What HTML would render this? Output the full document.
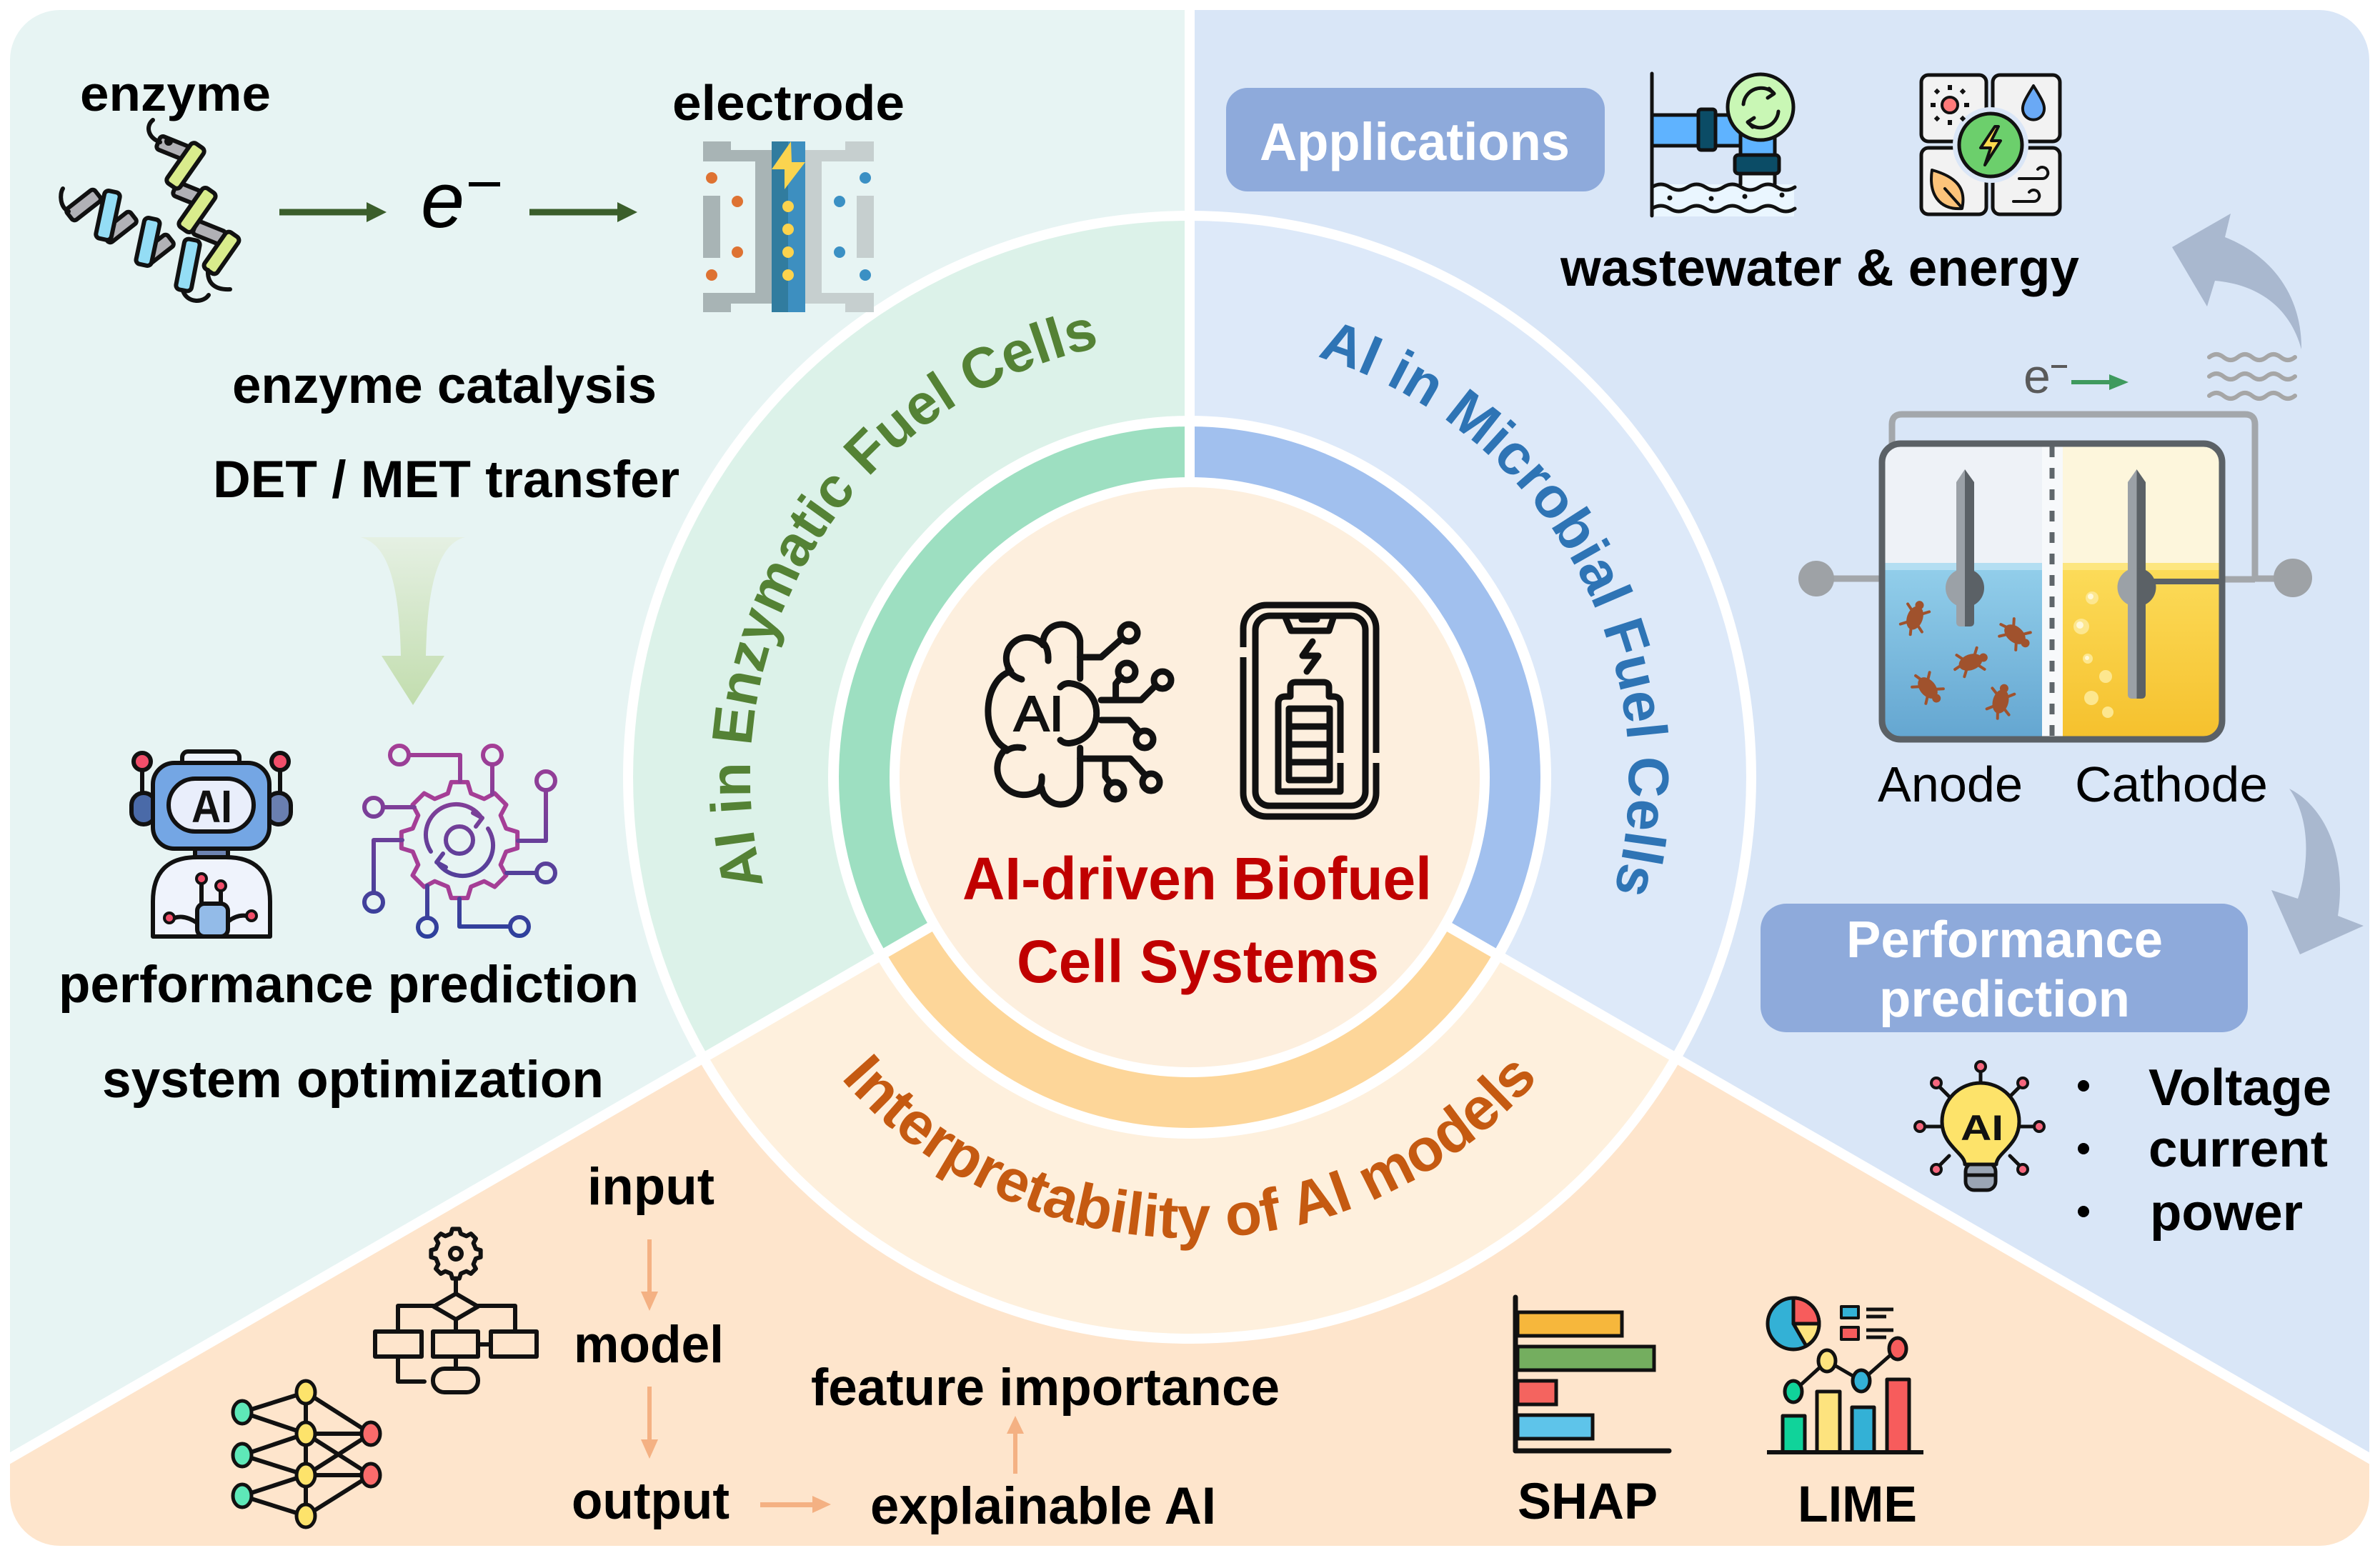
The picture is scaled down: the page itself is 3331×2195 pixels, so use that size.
<!DOCTYPE html>
<html><head><meta charset="utf-8"><title>AI-driven Biofuel Cell Systems</title>
<style>
html,body{margin:0;padding:0;background:#ffffff;}
svg{display:block;}
text{font-family:"Liberation Sans",Arial,sans-serif;}
</style></head><body>
<svg width="3331" height="2195" viewBox="0 0 3331 2195" xmlns="http://www.w3.org/2000/svg">
<defs>
 <clipPath id="panel"><rect x="14" y="14" width="3302" height="2150" rx="70"/></clipPath>
 <clipPath id="cellclip"><rect x="2638" y="625" width="468" height="406" rx="22"/></clipPath>
 <linearGradient id="gArrow" x1="0" y1="0" x2="0" y2="1"><stop offset="0" stop-color="#e5f0e3"/><stop offset="1" stop-color="#c2ddae"/></linearGradient>
 <linearGradient id="gearU" gradientUnits="userSpaceOnUse" x1="0" y1="1043" x2="0" y2="1313"><stop offset="0" stop-color="#a53e96"/><stop offset="1" stop-color="#2c409c"/></linearGradient>
 <linearGradient id="anodeL" x1="0" y1="0" x2="0" y2="1"><stop offset="0" stop-color="#93cfeb"/><stop offset="1" stop-color="#63a5d0"/></linearGradient>
 <linearGradient id="cathL" x1="0" y1="0" x2="0" y2="1"><stop offset="0" stop-color="#fcdc5a"/><stop offset="1" stop-color="#f5c02c"/></linearGradient>
 <path id="arcG" d="M 1122 1376.7 A 615 615 0 0 1 1686.5 473.4"/>
 <path id="arcB" d="M 1675.7 473.1 A 615 615 0 0 1 2192.2 1404.7"/>
 <path id="arcO" d="M 1080.4 1360.6 A 645 645 0 0 0 2249.6 1360.6"/>
 <g id="bac">
  <g stroke="#a0522d" stroke-width="4" stroke-linecap="round">
   <line x1="-9" y1="-8" x2="-15" y2="-16"/><line x1="9" y1="-8" x2="15" y2="-16"/>
   <line x1="-9" y1="8" x2="-15" y2="16"/><line x1="9" y1="8" x2="15" y2="16"/>
   <line x1="-16" y1="0" x2="-24" y2="2"/>
  </g>
  <ellipse cx="0" cy="0" rx="17" ry="11" fill="#a0522d"/>
  <circle cx="19" cy="0" r="6" fill="#a0522d"/>
 </g>
</defs>

<g clip-path="url(#panel)">
 <polygon fill="#e7f4f3" points="0,0 1665,0 1665,1088 0,2049.3"/>
 <polygon fill="#d9e6f7" points="1665,0 3331,0 3331,2049.9 1665,1088"/>
 <polygon fill="#fee5cc" points="0,2049.3 1665,1088 3331,2049.9 3331,2195 0,2195"/>

 <circle cx="1665" cy="1088" r="793" fill="#ffffff"/>
 <path d="M1665 1088 L1665 309 A779 779 0 0 0 990.4 1477.5 Z" fill="#dcf2e9"/>
 <path d="M1665 1088 L1665 309 A779 779 0 0 1 2339.6 1477.5 Z" fill="#dde9f9"/>
 <path d="M1665 1088 L990.4 1477.5 A779 779 0 0 0 2339.6 1477.5 Z" fill="#fef0dd"/>
 <circle cx="1665" cy="1088" r="506" fill="#ffffff"/>
 <path d="M1665 1088 L1665 597 A491 491 0 0 0 1239.8 1333.5 Z" fill="#9ddfc1"/>
 <path d="M1665 1088 L1665 597 A491 491 0 0 1 2090.2 1333.5 Z" fill="#a1c0ee"/>
 <path d="M1665 1088 L1239.8 1333.5 A491 491 0 0 0 2090.2 1333.5 Z" fill="#fdd699"/>
 <circle cx="1665" cy="1088" r="420" fill="#ffffff"/>
 <circle cx="1665" cy="1088" r="406" fill="#fdefde"/>

 <g stroke="#ffffff" stroke-width="14">
  <line x1="1665" y1="676" x2="1665" y2="0"/>
  <line x1="1310" y1="1293" x2="-67" y2="2088"/>
  <line x1="2020" y1="1293" x2="3397" y2="2088"/>
 </g>
</g>

<text font-size="80" font-weight="bold" fill="#548235"><textPath href="#arcG" startOffset="50%" text-anchor="middle">AI in Enzymatic Fuel Cells</textPath></text>
<text font-size="80" font-weight="bold" fill="#2e74b5"><textPath href="#arcB" startOffset="50%" text-anchor="middle">AI in Microbial Fuel Cells</textPath></text>
<text font-size="84" font-weight="bold" fill="#c55a11"><textPath href="#arcO" startOffset="50%" text-anchor="middle">Interpretability of AI models</textPath></text>

<text x="1347" y="1259" font-size="84" font-weight="bold" fill="#c00000" textLength="657" lengthAdjust="spacingAndGlyphs">AI-driven Biofuel</text>
<text x="1423" y="1375" font-size="84" font-weight="bold" fill="#c00000" textLength="507" lengthAdjust="spacingAndGlyphs">Cell Systems</text>

<!-- AI brain icon -->
<g fill="none" stroke="#111" stroke-width="9" stroke-linecap="round" stroke-linejoin="round">
 <path d="M1511.7 950 L1511.7 897 A26 26 0 0 0 1460 903 A27 27 0 0 0 1415 940 A38 56 0 0 0 1408 1048 A30 30 0 0 0 1458 1103 A27 27 0 0 0 1511.7 1100 L1511.7 1047"/>
 <path d="M1484 962 Q1490 955 1500 957 A41 42 0 0 1 1500 1040 Q1490 1042 1484 1036"/>
 <path d="M1467 925 Q1468 906 1458 898"/>
 <path d="M1430 951 Q1416 947 1411 936"/>
 <path d="M1432 1047 Q1418 1044 1409 1051"/>
 <path d="M1458 1087 Q1459 1100 1452 1108"/>
 <path d="M1511.7 920 L1541 920 L1568 896"/>
 <circle cx="1580" cy="886" r="12"/>
 <path d="M1561.6 980 L1561.6 957 L1569 948"/>
 <circle cx="1577" cy="940" r="12"/>
 <path d="M1541 980 L1597 980 L1616 961"/>
 <circle cx="1627" cy="952" r="12"/>
 <path d="M1541 1008 L1580 1008 L1595 1025"/>
 <circle cx="1602" cy="1035" r="12"/>
 <path d="M1511.7 1062 L1582 1062 L1601 1083"/>
 <circle cx="1611" cy="1095" r="12"/>
 <path d="M1547 1062 L1547 1087 L1553 1095"/>
 <circle cx="1561" cy="1107" r="12"/>
</g>
<text x="1419" y="1023" font-size="70" fill="#111" stroke="#111" stroke-width="2" textLength="70" lengthAdjust="spacingAndGlyphs">AI</text>

<!-- phone icon -->
<g fill="none" stroke="#111" stroke-width="9" stroke-linecap="round" stroke-linejoin="round">
 <rect x="1740" y="847" width="186" height="296" rx="33"/>
 <rect x="1757" y="862" width="154" height="266" rx="20"/>
 <path d="M1798 862 L1807 883 L1860 883 L1867 862"/>
 <line x1="1822" y1="867" x2="1843" y2="867"/>
 <path d="M1837 898 L1823 918 L1845 918 L1829 940"/>
 <path d="M1789 1108 L1789 985 Q1789 975 1799 975 L1806 975 L1806 962 Q1806 955 1813 955 L1852 955 Q1860 955 1860 962 L1860 975 L1866 975 Q1876 975 1876 985 L1876 1108 Z"/>
 <rect x="1804" y="992" width="57" height="100"/>
 <line x1="1804" y1="1017" x2="1861" y2="1017"/>
 <line x1="1804" y1="1042" x2="1861" y2="1042"/>
 <line x1="1804" y1="1067" x2="1861" y2="1067"/>
</g>
<rect x="1733" y="906" width="14" height="14" fill="#fdefde"/>
<rect x="1919" y="1054" width="14" height="14" fill="#fdefde"/>
<rect x="1870" y="1054" width="12" height="14" fill="#fdefde"/>

<!-- ========== TOP-LEFT ========== -->
<text x="112" y="155" font-size="70" font-weight="bold" fill="#000" textLength="267" lengthAdjust="spacingAndGlyphs">enzyme</text>
<text x="941" y="168" font-size="70" font-weight="bold" fill="#000" textLength="325" lengthAdjust="spacingAndGlyphs">electrode</text>

<!-- enzyme helix -->
<g stroke="#111" stroke-width="6" stroke-linejoin="round" stroke-linecap="round">
 <rect x="-22" y="-10" width="44" height="20" rx="5" fill="#b1b1b6" transform="translate(242,207) rotate(22)"/>
 <rect x="-22" y="-10" width="44" height="20" rx="5" fill="#b1b1b6" transform="translate(265,272) rotate(22)"/>
 <rect x="-22" y="-10" width="44" height="20" rx="5" fill="#b1b1b6" transform="translate(293,326) rotate(22)"/>
 <rect x="-34" y="-11" width="68" height="22" rx="6" fill="#d9ec8c" transform="translate(259.5,232) rotate(-55)"/>
 <rect x="-33" y="-11" width="66" height="22" rx="6" fill="#d9ec8c" transform="translate(276,294) rotate(-55)"/>
 <rect x="-31" y="-11" width="62" height="22" rx="6" fill="#d9ec8c" transform="translate(310,354) rotate(-55)"/>
 <rect x="-25" y="-10" width="50" height="20" rx="5" fill="#b1b1b6" transform="translate(117,287) rotate(-38)"/>
 <rect x="-25" y="-10" width="50" height="20" rx="5" fill="#b1b1b6" transform="translate(167,318) rotate(-38)"/>
 <rect x="-25" y="-10" width="50" height="20" rx="5" fill="#b1b1b6" transform="translate(219,350) rotate(-38)"/>
 <rect x="-34" y="-11" width="68" height="22" rx="6" fill="#94ddf5" transform="translate(151,301.5) rotate(-78)"/>
 <rect x="-33" y="-11" width="66" height="22" rx="6" fill="#94ddf5" transform="translate(207,338.5) rotate(-78)"/>
 <rect x="-36" y="-11" width="72" height="22" rx="6" fill="#94ddf5" transform="translate(263,371) rotate(-79)"/>
 <path d="M224 199 C206 192 204 176 214 168" fill="none"/>
 <circle cx="236" cy="198" r="3" fill="#111"/>
 <path d="M96 296 C84 290 83 272 88 264" fill="none"/>
 <path d="M256 407 C262 425 285 424 292 413" fill="none"/>
 <path d="M291 378 C290 396 300 406 322 405" fill="none"/>
</g>

<line x1="391" y1="297" x2="518" y2="297" stroke="#3b5e2b" stroke-width="9"/>
<polygon points="513,283 541,297 513,311" fill="#3b5e2b"/>
<text x="589" y="318" font-family="Liberation Serif, serif" font-style="italic" font-size="110" fill="#000">e</text>
<line x1="656" y1="258" x2="700" y2="258" stroke="#000" stroke-width="6"/>
<line x1="741" y1="297" x2="868" y2="297" stroke="#3b5e2b" stroke-width="9"/>
<polygon points="864,283 892,297 864,311" fill="#3b5e2b"/>

<!-- electrode icon -->
<g fill="#a8b4b5">
 <rect x="984" y="210" width="96" height="16"/><rect x="984" y="198" width="39" height="12"/>
 <rect x="1057" y="226" width="23" height="184"/>
 <rect x="984" y="410" width="96" height="15"/><rect x="984" y="425" width="39" height="12"/>
 <rect x="984" y="274" width="24" height="87"/>
</g>
<g fill="#c6cfcf">
 <rect x="1127" y="210" width="96" height="16"/><rect x="1183" y="198" width="40" height="12"/>
 <rect x="1127" y="226" width="23" height="184"/>
 <rect x="1127" y="410" width="96" height="15"/><rect x="1183" y="425" width="40" height="12"/>
 <rect x="1199" y="274" width="24" height="87"/>
</g>
<rect x="1080" y="198" width="23" height="239" fill="#317c9f"/>
<rect x="1103" y="198" width="24" height="239" fill="#3d8fc0"/>
<polygon points="1107,198 1080,237 1098,237 1098,265 1127,227 1108,227" fill="#fbd44f"/>
<g fill="#fcd34d"><circle cx="1103" cy="289" r="8"/><circle cx="1103" cy="321" r="8"/><circle cx="1103" cy="353" r="8"/><circle cx="1103" cy="385" r="8"/></g>
<g fill="#de7232"><circle cx="996" cy="249" r="8"/><circle cx="1032" cy="282" r="8"/><circle cx="1032" cy="353" r="8"/><circle cx="996" cy="385" r="8"/></g>
<g fill="#3b90c4"><circle cx="1211" cy="249" r="8"/><circle cx="1175" cy="282" r="8"/><circle cx="1175" cy="353" r="8"/><circle cx="1211" cy="385" r="8"/></g>

<text x="325" y="564" font-size="72" font-weight="bold" fill="#000" textLength="594" lengthAdjust="spacingAndGlyphs">enzyme catalysis</text>
<text x="298" y="696" font-size="73" font-weight="bold" fill="#000" textLength="653" lengthAdjust="spacingAndGlyphs">DET / MET transfer</text>

<path d="M504 752 L651 752 C610 762 598 830 596 918 L622 918 L578 987 L534 918 L561 918 C559 830 547 762 504 752 Z" fill="url(#gArrow)"/>

<!-- robot -->
<g stroke="#111" stroke-width="6" stroke-linejoin="round">
 <line x1="199" y1="1078" x2="199" y2="1112"/>
 <line x1="392" y1="1078" x2="392" y2="1112"/>
 <circle cx="199" cy="1066" r="12" fill="#f24e6a"/>
 <circle cx="392" cy="1066" r="12" fill="#f24e6a"/>
 <rect x="184" y="1110" width="34" height="44" rx="17" fill="#4a6aa8"/>
 <rect x="373" y="1110" width="34" height="44" rx="17" fill="#6a7fb0"/>
 <rect x="255" y="1052" width="80" height="22" rx="8" fill="#eef2fb"/>
 <rect x="214" y="1068" width="163" height="120" rx="30" fill="#74a6e4"/>
 <rect x="236" y="1090" width="119" height="74" rx="37" fill="#e9eefb"/>
 <rect x="273" y="1188" width="46" height="16" fill="#6d83b3"/>
 <path d="M214 1311 V1262 Q214 1200 276 1200 H316 Q378 1200 378 1262 V1311 Z" fill="#eff3fc"/>
 <line x1="282" y1="1237" x2="282" y2="1266"/>
 <line x1="309" y1="1247" x2="309" y2="1266"/>
 <path d="M244 1285 Q258 1280 276 1292" fill="none"/>
 <path d="M345 1282 Q332 1280 319 1290" fill="none"/>
 <rect x="276" y="1265" width="43" height="46" rx="10" fill="#93bbe8"/>
 <circle cx="282" cy="1230" r="7" fill="#f24e6a" stroke-width="4"/>
 <circle cx="309" cy="1240" r="7" fill="#f24e6a" stroke-width="4"/>
 <circle cx="237" cy="1285" r="7" fill="#f24e6a" stroke-width="4"/>
 <circle cx="352" cy="1282" r="7" fill="#f24e6a" stroke-width="4"/>
</g>
<text x="268" y="1151" font-size="64" font-weight="bold" fill="#111" textLength="57" lengthAdjust="spacingAndGlyphs">AI</text>

<!-- purple gear -->
<g fill="none" stroke="url(#gearU)" stroke-width="6" stroke-linecap="round" stroke-linejoin="round">
 <polygon transform="translate(643,1176) scale(8.2)" vector-effect="non-scaling-stroke" points="-1.98,-7.96 -1.39,-9.9 1.39,-9.9 1.98,-7.96 4.22,-7.03 6.02,-7.99 7.99,-6.02 7.03,-4.22 7.96,-1.98 9.9,-1.39 9.9,1.39 7.96,1.98 7.03,4.22 7.99,6.02 6.02,7.99 4.22,7.03 1.98,7.96 1.39,9.9 -1.39,9.9 -1.98,7.96 -4.22,7.03 -6.02,7.99 -7.99,6.02 -7.03,4.22 -7.96,1.98 -9.9,1.39 -9.9,-1.39 -7.96,-1.98 -7.03,-4.22 -7.99,-6.02 -6.02,-7.99 -4.22,-7.03"/>
 <path d="M603 1192 A42 42 0 0 1 674 1145"/>
 <path d="M683 1160 A42 42 0 0 1 612 1207"/>
 <path d="M662 1138 L675 1145 L666 1157"/>
 <path d="M624 1214 L611 1207 L620 1195"/>
 <circle cx="643" cy="1176" r="19"/>
 <path d="M572 1057 L644 1057 L644 1094"/>
 <circle cx="559" cy="1057" r="13"/>
 <path d="M689 1070 L689 1112"/>
 <circle cx="689" cy="1057" r="13"/>
 <path d="M764 1106 L764 1177 L725 1177"/>
 <circle cx="764" cy="1093" r="13"/>
 <path d="M536 1130 L580 1130"/>
 <circle cx="523" cy="1130" r="13"/>
 <path d="M751 1222 L709 1222"/>
 <circle cx="764" cy="1222" r="13"/>
 <path d="M563 1176 L523 1176 L523 1250"/>
 <circle cx="523" cy="1263" r="13"/>
 <path d="M598 1285 L598 1240"/>
 <circle cx="598" cy="1298" r="13"/>
 <path d="M643 1258 L643 1297 L714 1297"/>
 <circle cx="727" cy="1297" r="13"/>
</g>

<text x="82" y="1403" font-size="73" font-weight="bold" fill="#000" textLength="812" lengthAdjust="spacingAndGlyphs">performance prediction</text>
<text x="143" y="1536" font-size="73" font-weight="bold" fill="#000" textLength="702" lengthAdjust="spacingAndGlyphs">system optimization</text>

<!-- ========== TOP-RIGHT ========== -->
<rect x="1716" y="123" width="530" height="145" rx="30" fill="#8eaadb"/>
<text x="1763" y="224" font-size="74" font-weight="bold" fill="#ffffff" textLength="434" lengthAdjust="spacingAndGlyphs">Applications</text>

<rect x="2312" y="258" width="199" height="45" fill="#eaf6ff"/>
<rect x="2436" y="240" width="48" height="22" fill="#eaf6ff"/>
<g stroke="#111" stroke-width="5" stroke-linejoin="round" stroke-linecap="round">
 <line x1="2436" y1="242" x2="2436" y2="258"/><line x1="2484" y1="242" x2="2484" y2="258"/>
 <path d="M2312 262 q12.5 -8 25 0 t25 0 t25 0 t25 0 t25 0 t25 0 t25 0 t25 0" fill="none"/>
 <path d="M2312 292 q12.5 -8 25 0 t25 0 t25 0 t25 0 t25 0 t25 0 t25 0 t25 0" fill="none"/>
 <rect x="2312" y="161" width="140" height="43" fill="#5fb3ff"/>
 <rect x="2436" y="185" width="48" height="35" fill="#5fb3ff"/>
 <rect x="2377" y="153" width="24" height="57" rx="4" fill="#0b4c66"/>
 <circle cx="2464" cy="150" r="46" fill="#c9f7b5"/>
 <path d="M2440 146 A25 25 0 0 1 2482 130" fill="none"/>
 <path d="M2476 124 L2483 131 L2474 137" fill="none"/>
 <path d="M2489 156 A25 25 0 0 1 2447 172" fill="none"/>
 <path d="M2453 178 L2446 171 L2455 165" fill="none"/>
 <rect x="2428" y="217" width="62" height="26" rx="5" fill="#0b4c66"/>
 <line x1="2312" y1="103" x2="2312" y2="302"/>
</g>
<g fill="#111"><circle cx="2337" cy="277" r="3.5"/><circle cx="2395" cy="278" r="3.5"/><circle cx="2442" cy="275" r="3.5"/><circle cx="2494" cy="273" r="3.5"/></g>

<g stroke="#111" stroke-width="5" stroke-linejoin="round" stroke-linecap="round">
 <rect x="2689" y="105" width="91" height="93" rx="10" fill="#f2f2f2"/>
 <rect x="2789" y="105" width="94" height="93" rx="10" fill="#f2f2f2"/>
 <rect x="2689" y="207" width="91" height="93" rx="10" fill="#f2f2f2"/>
 <rect x="2789" y="207" width="94" height="93" rx="10" fill="#f2f2f2"/>
</g>
<circle cx="2786" cy="203" r="53" fill="#dae6f7"/>
<g stroke="#111" stroke-width="5" stroke-linejoin="round" stroke-linecap="round">
 <circle cx="2786" cy="203" r="44" fill="#6ccf6c"/>
 <polygon points="2792,177 2772,207 2786,207 2778,231 2800,197 2787,197 2797,177" fill="#fcd94d" stroke-width="4"/>
 <circle cx="2729" cy="147" r="11" fill="#ff7a7a" stroke-width="4"/>
 <path d="M2846 120 C2835 138 2828 148 2832 158 A15 15 0 0 0 2860 158 C2864 148 2857 138 2846 120 Z" fill="#6aa9f5" stroke-width="4"/>
 <path d="M2704 238 C2740 248 2752 265 2746 292 C2714 294 2699 272 2704 238 Z" fill="#fcc37a" stroke-width="4"/>
 <path d="M2746 291 L2722 264" fill="none" stroke-width="4"/>
 <path d="M2826 250 H2858 a8 8 0 1 0 -6 -13" fill="none" stroke-width="4"/>
 <path d="M2818 282 H2846 a8 8 0 1 0 -6 -13" fill="none" stroke-width="4"/>
</g>
<g fill="#111">
 <rect x="2726" y="119" width="6" height="7"/><rect x="2726" y="168" width="6" height="7"/>
 <rect x="2702" y="144" width="7" height="6"/><rect x="2749" y="144" width="7" height="6"/>
 <rect x="2708" y="125" width="6" height="6" transform="rotate(45 2711 128)"/>
 <rect x="2744" y="125" width="6" height="6" transform="rotate(45 2747 128)"/>
 <rect x="2708" y="163" width="6" height="6" transform="rotate(45 2711 166)"/>
 <rect x="2744" y="163" width="6" height="6" transform="rotate(45 2747 166)"/>
</g>

<text x="2184" y="400" font-size="73" font-weight="bold" fill="#000" textLength="726" lengthAdjust="spacingAndGlyphs">wastewater &amp; energy</text>

<path d="M3221 489 C3222 420 3185 360 3114 332 L3122 299 L3040 346 L3089 429 L3100 393 C3160 398 3205 430 3221 489 Z" fill="#a9b8cf"/>
<path d="M3204 1104 C3255 1130 3285 1200 3272 1282 L3308 1296 L3219 1336 L3179 1246 L3216 1258 C3235 1200 3230 1140 3204 1104 Z" fill="#a9b8cf"/>

<g fill="none" stroke="#a6a6a6" stroke-width="6" stroke-linecap="round">
 <path d="M3092 500 q10 -8 20 0 t20 0 t20 0 t20 0 t20 0 t20 0"/>
 <path d="M3092 527 q10 -8 20 0 t20 0 t20 0 t20 0 t20 0 t20 0"/>
 <path d="M3092 554 q10 -8 20 0 t20 0 t20 0 t20 0 t20 0 t20 0"/>
</g>

<text x="2832" y="550" font-size="68" fill="#5a5a5a">e</text>
<line x1="2871" y1="513" x2="2893" y2="513" stroke="#5a5a5a" stroke-width="4"/>
<line x1="2899" y1="535" x2="2958" y2="535" stroke="#3f9a5e" stroke-width="6"/>
<polygon points="2952,524 2979,535 2952,546" fill="#3f9a5e"/>

<!-- fuel cell -->
<path d="M2648 624 V594 Q2648 580 2662 580 H3142 Q3156 580 3156 594 V810 H3209" fill="none" stroke="#a3a7ab" stroke-width="9"/>
<line x1="2542" y1="810" x2="2634" y2="810" stroke="#a3a7ab" stroke-width="9"/>
<line x1="3106" y1="811" x2="3156" y2="811" stroke="#a3a7ab" stroke-width="9"/>
<circle cx="2542" cy="810" r="25" fill="#9ea2a6"/>
<circle cx="3209" cy="809" r="27" fill="#9ea2a6"/>
<g clip-path="url(#cellclip)">
 <rect x="2630" y="620" width="230" height="420" fill="#eef2f7"/>
 <rect x="2630" y="790" width="230" height="250" fill="url(#anodeL)"/>
 <rect x="2630" y="788" width="230" height="10" fill="#b3def2"/>
 <rect x="2885" y="620" width="230" height="420" fill="#fdf6dc"/>
 <rect x="2885" y="790" width="230" height="250" fill="url(#cathL)"/>
 <rect x="2885" y="788" width="230" height="10" fill="#fde67f"/>
 <rect x="2858" y="620" width="29" height="420" fill="#f7f9fb"/>
 <line x1="2872" y1="625" x2="2872" y2="1035" stroke="#5f666b" stroke-width="7" stroke-dasharray="15 15"/>
 <g fill="#fde78f">
  <circle cx="2928" cy="837" r="9"/><circle cx="2913" cy="877" r="11"/><circle cx="2922" cy="922" r="7"/>
  <circle cx="2947" cy="947" r="9"/><circle cx="2927" cy="977" r="10"/><circle cx="2950" cy="997" r="8"/>
 </g>
 <g fill="#fff8d8"><circle cx="2926" cy="835" r="4"/><circle cx="2911" cy="875" r="5"/><circle cx="2921" cy="921" r="3"/></g>
 <use href="#bac" transform="translate(2680,865) rotate(-70)"/>
 <use href="#bac" transform="translate(2820,888) rotate(40)"/>
 <use href="#bac" transform="translate(2758,927) rotate(-20)"/>
 <use href="#bac" transform="translate(2698,963) rotate(50)"/>
 <use href="#bac" transform="translate(2800,982) rotate(-75)"/>
</g>
<rect x="2634" y="621" width="476" height="414" rx="26" fill="none" stroke="#5b6166" stroke-width="9"/>
<path d="M2750 657 L2738 675 V871 Q2738 877 2744 877 H2750 Z" fill="#9ba1a7"/>
<path d="M2750 657 L2763 675 V871 Q2763 877 2757 877 H2750 Z" fill="#5b6166"/>
<path d="M2750 796 A27 27 0 0 0 2750 850 Z" fill="#9ba1a7"/>
<path d="M2750 796 A27 27 0 0 1 2750 850 Z" fill="#5b6166"/>
<line x1="3003" y1="814" x2="3106" y2="814" stroke="#5b6166" stroke-width="8"/>
<path d="M2990.5 657 L2978 675 V972 Q2978 978 2984 978 H2990.5 Z" fill="#9ba1a7"/>
<path d="M2990.5 657 L3003 675 V972 Q3003 978 2997 978 H2990.5 Z" fill="#5b6166"/>
<path d="M2990.5 795 A27 27 0 0 0 2990.5 849 Z" fill="#9ba1a7"/>
<path d="M2990.5 795 A27 27 0 0 1 2990.5 849 Z" fill="#5b6166"/>

<text x="2628" y="1122" font-size="70" fill="#000" textLength="203" lengthAdjust="spacingAndGlyphs">Anode</text>
<text x="2904" y="1122" font-size="70" fill="#000" textLength="270" lengthAdjust="spacingAndGlyphs">Cathode</text>

<rect x="2464" y="1265" width="682" height="180" rx="36" fill="#8eaadb"/>
<text x="2584" y="1340" font-size="72" font-weight="bold" fill="#ffffff" textLength="443" lengthAdjust="spacingAndGlyphs">Performance</text>
<text x="2630" y="1423" font-size="72" font-weight="bold" fill="#ffffff" textLength="351" lengthAdjust="spacingAndGlyphs">prediction</text>

<g stroke="#111" stroke-width="5" stroke-linecap="round" stroke-linejoin="round">
 <line x1="2772" y1="1500" x2="2772" y2="1516"/>
 <line x1="2694" y1="1577" x2="2716" y2="1577"/>
 <line x1="2847" y1="1577" x2="2827" y2="1577"/>
 <line x1="2715" y1="1522" x2="2728" y2="1535"/>
 <line x1="2826" y1="1522" x2="2813" y2="1535"/>
 <line x1="2715" y1="1631" x2="2728" y2="1618"/>
 <line x1="2826" y1="1631" x2="2813" y2="1618"/>
 <circle cx="2772" cy="1493" r="7" fill="#f5667d" stroke-width="4"/>
 <circle cx="2687" cy="1577" r="7" fill="#f5667d" stroke-width="4"/>
 <circle cx="2854" cy="1577" r="7" fill="#f5667d" stroke-width="4"/>
 <circle cx="2710" cy="1516" r="7" fill="#f5667d" stroke-width="4"/>
 <circle cx="2831" cy="1516" r="7" fill="#f5667d" stroke-width="4"/>
 <circle cx="2710" cy="1637" r="7" fill="#f5667d" stroke-width="4"/>
 <circle cx="2831" cy="1637" r="7" fill="#f5667d" stroke-width="4"/>
 <rect x="2751" y="1628" width="42" height="38" rx="12" fill="#9aa5b4"/>
 <line x1="2752" y1="1645" x2="2792" y2="1645"/>
 <path d="M2750 1630 C2750 1614 2718 1604 2718 1570 A54 54 0 1 1 2826 1570 C2826 1604 2794 1614 2794 1630 Z" fill="#fde36a"/>
</g>
<text x="2744" y="1596" font-family="Liberation Mono, monospace" font-weight="bold" font-size="50" fill="#111" textLength="60" lengthAdjust="spacingAndGlyphs">AI</text>

<g fill="#000"><circle cx="2916" cy="1520" r="8"/><circle cx="2916" cy="1608" r="8"/><circle cx="2916" cy="1696" r="8"/></g>
<text x="3007" y="1547" font-size="72" font-weight="bold" fill="#000" textLength="256" lengthAdjust="spacingAndGlyphs">Voltage</text>
<text x="3007" y="1633" font-size="72" font-weight="bold" fill="#000" textLength="251" lengthAdjust="spacingAndGlyphs">current</text>
<text x="3009" y="1722" font-size="72" font-weight="bold" fill="#000" textLength="214" lengthAdjust="spacingAndGlyphs">power</text>

<!-- ========== BOTTOM ========== -->
<text x="822" y="1686" font-size="73" font-weight="bold" fill="#000" textLength="178" lengthAdjust="spacingAndGlyphs">input</text>
<text x="803" y="1907" font-size="73" font-weight="bold" fill="#000" textLength="210" lengthAdjust="spacingAndGlyphs">model</text>
<text x="800" y="2126" font-size="73" font-weight="bold" fill="#000" textLength="221" lengthAdjust="spacingAndGlyphs">output</text>
<text x="1135" y="1967" font-size="73" font-weight="bold" fill="#000" textLength="656" lengthAdjust="spacingAndGlyphs">feature importance</text>
<text x="1218" y="2133" font-size="73" font-weight="bold" fill="#000" textLength="484" lengthAdjust="spacingAndGlyphs">explainable AI</text>

<g fill="#f4b183" stroke="none">
 <rect x="906" y="1735" width="6" height="78"/><polygon points="897,1808 921,1808 909,1835"/>
 <rect x="906" y="1941" width="6" height="78"/><polygon points="897,2015 921,2015 909,2042"/>
 <rect x="1064" y="2103" width="76" height="7"/><polygon points="1137,2094 1163,2106 1137,2118"/>
 <rect x="1418" y="2004" width="6" height="59"/><polygon points="1409,2007 1433,2007 1421,1982"/>
</g>

<g fill="none" stroke="#111" stroke-width="6" stroke-linejoin="round" stroke-linecap="round">
 <polygon transform="translate(638,1755) scale(3.5)" vector-effect="non-scaling-stroke" points="-1.98,-7.96 -1.39,-9.9 1.39,-9.9 1.98,-7.96 4.22,-7.03 6.02,-7.99 7.99,-6.02 7.03,-4.22 7.96,-1.98 9.9,-1.39 9.9,1.39 7.96,1.98 7.03,4.22 7.99,6.02 6.02,7.99 4.22,7.03 1.98,7.96 1.39,9.9 -1.39,9.9 -1.98,7.96 -4.22,7.03 -6.02,7.99 -7.99,6.02 -7.03,4.22 -7.96,1.98 -9.9,1.39 -9.9,-1.39 -7.96,-1.98 -7.03,-4.22 -7.99,-6.02 -6.02,-7.99 -4.22,-7.03"/>
 <circle cx="638" cy="1755" r="8"/>
 <line x1="638" y1="1790" x2="638" y2="1811"/>
 <polygon points="638,1811 669,1829 638,1847 607,1829"/>
 <path d="M607 1828 H557 V1864"/>
 <path d="M669 1828 H721 V1864"/>
 <line x1="638" y1="1847" x2="638" y2="1864"/>
 <rect x="525" y="1864" width="65" height="35"/>
 <rect x="606" y="1864" width="63" height="35"/>
 <rect x="687" y="1864" width="64" height="35"/>
 <line x1="669" y1="1882" x2="687" y2="1882"/>
 <path d="M557 1899 V1934 H594"/>
 <line x1="638" y1="1899" x2="638" y2="1916"/>
 <rect x="606" y="1916" width="63" height="33" rx="16"/>
</g>

<g stroke="#111" stroke-width="6" stroke-linecap="round">
 <line x1="339" y1="1977" x2="428" y2="1949"/><line x1="339" y1="1977" x2="428" y2="2007"/>
 <line x1="339" y1="2037" x2="428" y2="2007"/><line x1="339" y1="2037" x2="428" y2="2065"/>
 <line x1="339" y1="2094" x2="428" y2="2065"/><line x1="339" y1="2094" x2="428" y2="2122"/>
 <line x1="428" y1="1949" x2="428" y2="2122"/>
 <line x1="428" y1="1949" x2="519" y2="2007"/><line x1="428" y1="2007" x2="519" y2="2007"/>
 <line x1="428" y1="2007" x2="519" y2="2065"/><line x1="428" y1="2065" x2="519" y2="2007"/>
 <line x1="428" y1="2065" x2="519" y2="2065"/><line x1="428" y1="2122" x2="519" y2="2065"/>
</g>
<g stroke="#111" stroke-width="5">
 <ellipse cx="339" cy="1977" rx="13" ry="16" fill="#5ee8b8"/>
 <ellipse cx="339" cy="2037" rx="13" ry="16" fill="#5ee8b8"/>
 <ellipse cx="339" cy="2094" rx="13" ry="16" fill="#5ee8b8"/>
 <ellipse cx="428" cy="1949" rx="13" ry="16" fill="#fde36b"/>
 <ellipse cx="428" cy="2007" rx="13" ry="16" fill="#fde36b"/>
 <ellipse cx="428" cy="2065" rx="13" ry="16" fill="#fde36b"/>
 <ellipse cx="428" cy="2122" rx="13" ry="16" fill="#fde36b"/>
 <ellipse cx="519" cy="2007" rx="13" ry="16" fill="#fb6b6b"/>
 <ellipse cx="519" cy="2065" rx="13" ry="16" fill="#fb6b6b"/>
</g>

<g stroke="#111" stroke-width="5">
 <rect x="2124" y="1837" width="146" height="33" fill="#f6b73c"/>
 <rect x="2124" y="1885" width="191" height="33" fill="#74ae5f"/>
 <rect x="2124" y="1933" width="54" height="33" fill="#f4645f"/>
 <rect x="2124" y="1981" width="105" height="33" fill="#5ec4ea"/>
</g>
<g stroke="#111" stroke-width="7" stroke-linecap="round">
 <line x1="2121" y1="1816" x2="2121" y2="2031"/>
 <line x1="2121" y1="2031" x2="2336" y2="2031"/>
</g>
<text x="2124" y="2126" font-size="71" font-weight="bold" fill="#000" textLength="196" lengthAdjust="spacingAndGlyphs">SHAP</text>

<g stroke="#111" stroke-width="5" stroke-linejoin="round">
 <circle cx="2510" cy="1853" r="36" fill="#33b1d6"/>
 <path d="M2510 1853 L2510 1817 A36 36 0 0 1 2546 1853 Z" fill="#f75c5c"/>
 <path d="M2510 1853 L2546 1853 A36 36 0 0 1 2528 1884.2 Z" fill="#fde37e"/>
 <rect x="2577" y="1829" width="24" height="16" fill="#33b1d6" stroke-width="4"/>
 <rect x="2577" y="1858" width="24" height="17" fill="#f75c5c" stroke-width="4"/>
 <line x1="2612" y1="1833" x2="2650" y2="1833"/>
 <line x1="2612" y1="1843" x2="2640" y2="1843"/>
 <line x1="2612" y1="1862" x2="2650" y2="1862"/>
 <line x1="2612" y1="1872" x2="2640" y2="1872"/>
 <polyline points="2510,1948 2557,1905 2605,1933 2656,1888" fill="none"/>
 <rect x="2495" y="1982" width="31" height="51" fill="#10d39a"/>
 <rect x="2543" y="1948" width="32" height="85" fill="#fde37e"/>
 <rect x="2592" y="1970" width="31" height="63" fill="#33b1d6"/>
 <rect x="2641" y="1931" width="31" height="102" fill="#f75c5c"/>
 <ellipse cx="2510" cy="1948" rx="12" ry="15" fill="#10d39a"/>
 <ellipse cx="2557" cy="1905" rx="12" ry="15" fill="#fde37e"/>
 <ellipse cx="2605" cy="1933" rx="12" ry="15" fill="#33b1d6"/>
 <ellipse cx="2656" cy="1888" rx="12" ry="15" fill="#f75c5c"/>
 <line x1="2473" y1="2033" x2="2692" y2="2033" stroke-width="6"/>
</g>
<text x="2516" y="2130" font-size="71" font-weight="bold" fill="#000" textLength="167" lengthAdjust="spacingAndGlyphs">LIME</text>

</svg>
</body></html>
